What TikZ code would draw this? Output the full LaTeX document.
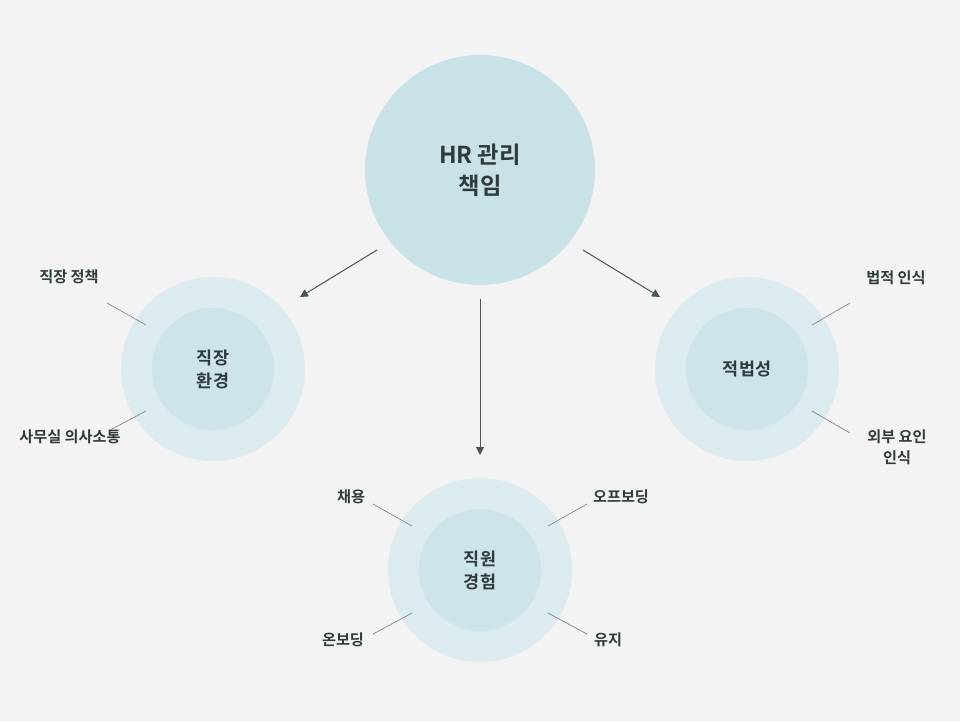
\documentclass[tikz,border=0pt]{standalone}
\usepackage{fontspec}
\setmainfont{Noto Sans CJK KR}[BoldFont={Noto Sans CJK KR Bold}]
\usetikzlibrary{arrows.meta,calc,positioning}
\definecolor{bgGray}{HTML}{F3F3F3}
\definecolor{hubFill}{HTML}{C8E2E8}
\definecolor{ringFill}{HTML}{DCEBEF}
\definecolor{coreFill}{HTML}{CCE4EA}
\definecolor{inkDark}{HTML}{2F3B3D}
\definecolor{leadGray}{HTML}{8A9598}
\definecolor{arrowGray}{HTML}{4A5654}
\tikzset{
    hub circle/.style={
        circle,
        fill=hubFill,
        minimum size=230pt,
        align=center,
        text=inkDark,
        font=\fontsize{23.3}{31}\selectfont\bfseries
    },
    ring circle/.style={
        circle,
        fill=ringFill,
        minimum size=184pt
    },
    core circle/.style={
        circle,
        fill=coreFill,
        minimum size=122pt,
        align=center,
        text=inkDark,
        font=\fontsize{17.4}{23}\selectfont\bfseries
    },
    side label/.style={
        align=center,
        text=inkDark,
        inner sep=1pt,
        font=\fontsize{15.2}{21}\selectfont\bfseries
    },
    lead line/.style={leadGray, line width=0.8pt},
    hub arrow/.style={-{Triangle[length=8pt,width=8pt]}, arrowGray, line width=1pt}
}

\begin{document}
\begin{tikzpicture}[x=1pt,y=-1pt]
    \fill[bgGray] (0,0) rectangle (960,721);
    \useasboundingbox (0,0) rectangle (960,721);

    \node[hub circle] (hr) at (480,170) {HR 관리\\책임};

    \node[ring circle] (envring) at (213,369) {};
    \node[core circle] (env) at (213,369) {직장\\환경};
    \node[ring circle] (lawring) at (747,369) {};
    \node[core circle] (law) at (747,369) {적법성};
    \node[ring circle] (expring) at (480,570) {};
    \node[core circle] (exp) at (480,570) {직원\\경험};

    % connectors from the hub
    \draw[hub arrow] ($(hr)+(-103,80)$) -- ($(envring)+(87,-72)$);
    \draw[hub arrow] ($(hr)+(0,129)$) -- ($(expring)+(0,-115)$);
    \draw[hub arrow] ($(hr)+(103,80)$) -- ($(lawring)+(-87,-72)$);

    % labels round the workplace circle
    \node[side label] (policy) at (69,277) {직장 정책};
    \node[side label] (office) at (70,437) {사무실 의사소통};
    \coordinate (policyend) at ($(envring)+(-67,-44)$);
    \coordinate (officeend) at ($(envring)+(-67,42)$);
    \draw[lead line] ($(policy)+(38,26)$) -- (policyend);
    \draw[lead line] ($(office)+(40,-7)$) -- (officeend);

    % labels round the compliance circle
    \node[side label] (legal) at (896,278) {법적 인식};
    \node[side label] (outer) at (897,447) {외부 요인\\인식};
    \coordinate (legalend) at ($(lawring)+(65,-44)$);
    \coordinate (outerend) at ($(lawring)+(65,42)$);
    \draw[lead line] ($(legal)+(-46,25)$) -- (legalend);
    \draw[lead line] ($(outer)+(-47,-14)$) -- (outerend);

    % labels round the employee circle
    \node[side label] (hire) at (351,497) {채용};
    \node[side label] (offb) at (621,497) {오프보딩};
    \node[side label] (onb) at (343,640) {온보딩};
    \node[side label] (keep) at (608,640) {유지};
    \coordinate (hireend) at ($(expring)+(-68,-44)$);
    \coordinate (offbend) at ($(expring)+(68,-44)$);
    \coordinate (onbend) at ($(expring)+(-68,43)$);
    \coordinate (keepend) at ($(expring)+(68,43)$);
    \draw[lead line] ($(hire)+(22,7)$) -- (hireend);
    \draw[lead line] ($(offb)+(-34,7)$) -- (offbend);
    \draw[lead line] ($(onb)+(30,-6)$) -- (onbend);
    \draw[lead line] ($(keep)+(-21,-6)$) -- (keepend);
\end{tikzpicture}
\end{document}
